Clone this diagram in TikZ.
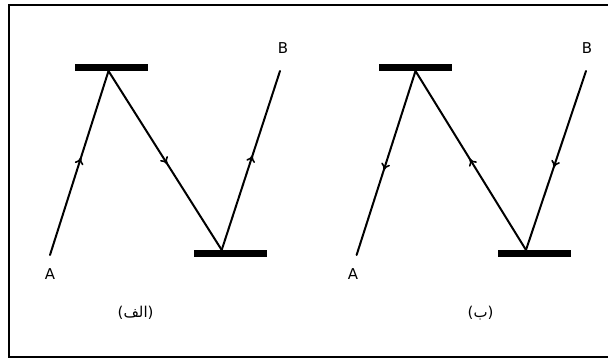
\documentclass[tikz,border=0pt]{standalone}
\usepackage{fontspec}
\setmainfont{DejaVu Sans}
\newfontfamily\arabicfont[Script=Arabic]{DejaVu Sans}
\TeXXeTstate=1
\usetikzlibrary{arrows.meta,decorations.markings}
\tikzset{
  mirror/.style={fill=black, draw=none, minimum height=7bp, minimum width=73bp, inner sep=0pt, rectangle},
  ray/.style={line width=2bp, line cap=round},
  midarrow/.style={postaction={decorate}, decoration={markings, mark=at position #1 with {\arrow{To[length=7bp,width=9bp,line width=1.6bp]}}}},
  lbl/.style={font=\fontsize{15}{17}\selectfont, inner sep=0pt},
  captxt/.style={font=\fontsize{15}{17}\selectfont, inner sep=0pt}
}
\begin{document}
\begin{tikzpicture}[x=1bp,y=-1bp]
\useasboundingbox (0,0) rectangle (608,360);
\fill[white] (0,0) rectangle (608,360);
\draw[line width=2bp] (609,4.5) -- (9,4.5) -- (9,357) -- (609,357);

% left figure
\node[mirror] (t1) at (111.5,67.75) {};
\node[mirror] (b1) at (230.6,253.5) {};
\coordinate (p1) at (108.5,71);
\coordinate (q1) at (221.7,250);
\coordinate (a1) at (50,255);
\coordinate (e1) at (280,71);
\draw[ray, midarrow=0.53] (a1) -- (p1);
\draw[ray, midarrow=0.52] (p1) -- (q1);
\draw[ray, midarrow=0.53] (q1) -- (e1);
\node[lbl] (la1) at (50,274) {A};
\node[lbl] (lb1) at (283,48.5) {B};
\node[captxt] (c1) at (135.6,313) {({\arabicfont\beginR الف\endR})};

% right figure
\node[mirror] (t2) at (415.2,67.75) {};
\node[mirror] (b2) at (534,253.5) {};
\coordinate (p2) at (415.5,71);
\coordinate (q2) at (526,250);
\coordinate (a2) at (356.6,255);
\coordinate (e2) at (586,71);
\draw[ray, midarrow=0.54] (p2) -- (a2);
\draw[ray, midarrow=0.51] (q2) -- (p2);
\draw[ray, midarrow=0.54] (e2) -- (q2);
\node[lbl] (la2) at (353,274) {A};
\node[lbl] (lb2) at (587,48.5) {B};
\node[captxt] (c2) at (480.6,313) {({\arabicfont\beginR ب\endR})};
\end{tikzpicture}
\end{document}
